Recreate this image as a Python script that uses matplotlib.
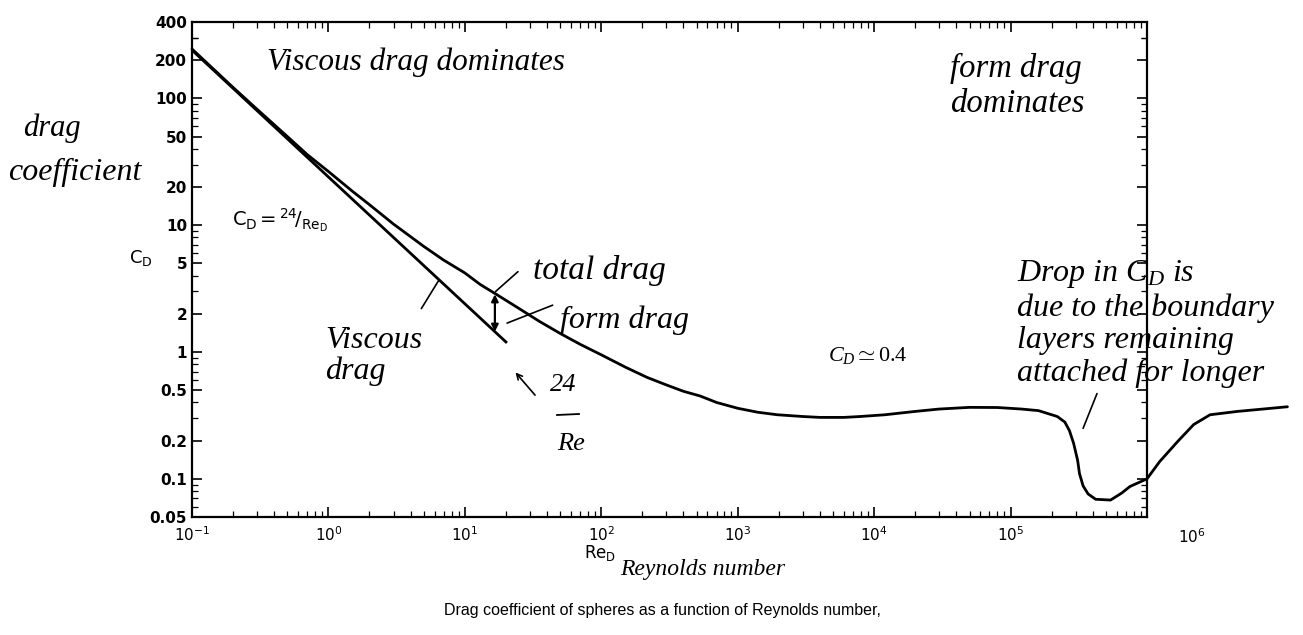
import numpy as np
import matplotlib
matplotlib.use("Agg")
import matplotlib.pyplot as plt
from matplotlib.lines import Line2D
from matplotlib.transforms import blended_transform_factory

plt.rcParams["mathtext.fontset"] = "custom"
plt.rcParams["mathtext.rm"] = "Liberation Serif"
plt.rcParams["mathtext.it"] = "Liberation Serif:italic"
plt.rcParams["mathtext.sf"] = "DejaVu Sans"

# total drag curve for a sphere (Re, C_D)
re_total = [0.1, 0.2, 0.3, 0.5, 0.7, 1, 1.5, 2, 3, 5, 7, 10, 13, 17, 25, 35, 50, 70,
            100, 150, 217, 300, 400, 530, 700, 1000, 1400, 1950, 3000, 4000, 6000,
            7900, 1.2e4, 2e4, 3e4, 5e4, 8e4, 1.2e5, 1.6e5, 2.2e5, 2.5e5, 2.7e5,
            2.9e5, 3.1e5, 3.2e5, 3.4e5, 3.7e5, 4.2e5, 5.4e5, 6.5e5, 7.5e5, 1e6,
            1.24e6, 1.7e6, 2.2e6, 2.9e6, 4.6e6, 1.07e7]
cd_total = [245, 122, 82, 50, 36, 26.5, 18.5, 14.5, 10.2, 6.8, 5.3, 4.2, 3.4, 2.85,
            2.2, 1.75, 1.4, 1.15, 0.95, 0.76, 0.63, 0.55, 0.49, 0.45, 0.40, 0.36,
            0.335, 0.32, 0.31, 0.305, 0.305, 0.31, 0.32, 0.34, 0.355, 0.366, 0.365,
            0.355, 0.345, 0.31, 0.28, 0.24, 0.19, 0.14, 0.11, 0.088, 0.076, 0.069,
            0.068, 0.077, 0.087, 0.10, 0.137, 0.20, 0.268, 0.32, 0.34, 0.37]

# Stokes (viscous) drag, C_D = 24/Re
re_visc = np.array([0.1, 20.0])
cd_visc = 24.0 / re_visc

x_decades = list(range(-1, 7))
y_ticks = [0.05, 0.1, 0.2, 0.5, 1, 2, 5, 10, 20, 50, 100, 200, 400]
y_labels = ["0.05", "0.1", "0.2", "0.5", "1", "2", "5", "10", "20", "50", "100", "200", "400"]

W, H = 1303, 635
hand = dict(family="Liberation Serif", style="italic", color="black")
thin = dict(lw=1.2, color="black", shrinkA=0, shrinkB=0)


def fxy(xp, yp):
    return xp / W, 1 - yp / H


fig = plt.figure(figsize=(W / 100, H / 100), dpi=100)
ax = fig.add_axes([192 / W, 1 - 517 / H, (1147 - 192) / W, (517 - 22) / H])
ax.set_xscale("log")
ax.set_yscale("log")
ax.set_xlim(0.1, 1e6)
ax.set_ylim(0.05, 400)

ax.plot(re_visc, cd_visc, color="black", lw=2)
ax.plot(re_total, cd_total, color="black", lw=2, clip_on=False, solid_capstyle="round")

# ticks
ax.set_xticks([10.0 ** k for k in x_decades])
ax.set_xticklabels([r"$\mathsf{10^{%d}}$" % k for k in x_decades[:-1]] + [""])
ax.set_xticks([m * 10.0 ** k for k in x_decades[:-1] for m in range(2, 10)], minor=True)
ax.set_yticks(y_ticks)
ax.set_yticklabels(y_labels)
ax.set_yticks([m * 10.0 ** k for k in range(-2, 3) for m in (3, 4, 6, 7, 8, 9)
               if 0.05 < m * 10.0 ** k < 400] + [300], minor=True)
ax.tick_params(which="both", direction="in", top=True, right=True, labelsize=11)
ax.tick_params(which="major", length=7, width=1.2)
ax.tick_params(which="minor", length=4, width=0.9)
ax.tick_params(axis="x", pad=6)
for s in ax.spines.values():
    s.set_linewidth(1.6)
for lab in ax.get_xticklabels() + ax.get_yticklabels():
    lab.set_fontweight("bold")
tr = blended_transform_factory(ax.transData, ax.transAxes)
ax.text(10 ** 6.33, -0.02, r"$\mathsf{10^{6}}$", transform=tr, ha="center", va="top",
        fontsize=11, clip_on=False)

# printed labels
fig.text(*fxy(141, 258), r"$\mathsf{C_D}$", fontsize=13, ha="center", va="center")
fig.text(*fxy(232, 220), r"$\mathsf{C_D = {}^{24}\!/_{Re_D}}$", fontsize=14, ha="left", va="center")
fig.text(*fxy(600, 553), r"$\mathsf{Re_D}$", fontsize=12, ha="center", va="center")
fig.text(*fxy(662, 610), "Drag coefficient of spheres as a function of Reynolds number,",
         fontsize=11.5, family="Liberation Sans", ha="center", va="center")

# handwritten notes
fig.text(*fxy(267, 62), "Viscous drag dominates", fontsize=22.5, ha="left", va="center", **hand)
fig.text(*fxy(950, 86), "form drag\ndominates", fontsize=23.5, ha="left", va="center",
         linespacing=1.2, **hand)
fig.text(*fxy(23, 128), "drag", fontsize=22, ha="left", va="center", **hand)
fig.text(*fxy(8, 172), "coefficient", fontsize=23, ha="left", va="center", **hand)
fig.text(*fxy(325, 356), "Viscous\ndrag", fontsize=23, ha="left", va="center",
         linespacing=1.1, **hand)
fig.text(*fxy(533, 270), "total drag", fontsize=24, ha="left", va="center", **hand)
fig.text(*fxy(560, 320), "form drag", fontsize=23, ha="left", va="center", **hand)
fig.text(*fxy(828, 355), r"$C_D \simeq 0.4$", fontsize=16, ha="left", va="center", **hand)
fig.text(*fxy(1017, 323), "Drop in $C_D$ is\ndue to the boundary\nlayers remaining\nattached for longer",
         fontsize=23, ha="left", va="center", linespacing=1.15, **hand)
fig.text(*fxy(620, 570), "Reynolds number", fontsize=17, ha="left", va="center", **hand)
fig.text(*fxy(563, 385), "24", fontsize=19, ha="center", va="center", **hand)
fig.text(*fxy(571, 444), "Re", fontsize=19, ha="center", va="center", **hand)
fig.add_artist(Line2D([557 / W, 579 / W], [1 - 415 / H, 1 - 414 / H], color="black", lw=1.3))

# leader lines and arrows
ax.annotate("", xy=(6.4, 24 / 6.4 * 0.97), xytext=(4.8, 2.2), arrowprops=dict(arrowstyle="-", **thin))
ax.annotate("", xy=(16.6, 2.85), xytext=(16.6, 24 / 16.6),
            arrowprops=dict(arrowstyle="<|-|>", lw=1.6, color="black", mutation_scale=10,
                            shrinkA=0, shrinkB=0))
ax.annotate("", xy=(16.8, 3.0), xytext=(24.5, 4.3), arrowprops=dict(arrowstyle="-", **thin))
ax.annotate("", xy=(20.4, 1.69), xytext=(44, 2.34), arrowprops=dict(arrowstyle="-", **thin))
ax.annotate("", xy=(23.5, 0.69), xytext=(32.7, 0.457), arrowprops=dict(arrowstyle="->", **thin))
ax.annotate("", xy=(3.4e5, 0.25), xytext=(4.3e5, 0.47), arrowprops=dict(arrowstyle="-", **thin))

fig.savefig("out.png", dpi=100, facecolor="white")
